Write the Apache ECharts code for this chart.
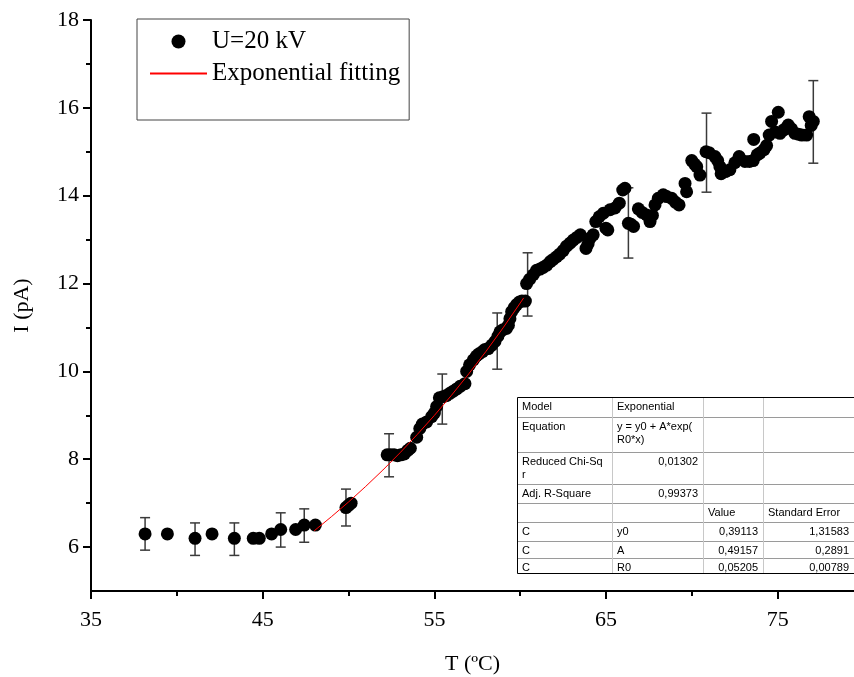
<!DOCTYPE html>
<html>
<head>
<meta charset="utf-8">
<script src="https://cdn.jsdelivr.net/npm/echarts@6/dist/echarts.min.js"></script>
<style>
  html, body { margin: 0; padding: 0; background: #fff; }
  #chart { width: 854px; height: 677px; }
</style>
</head>
<body>
<div id="chart"></div>
<script>
// Measured current I (pA) against temperature T (ºC) at U = 20 kV
const temperature = [
  38.15, 39.45, 41.06, 42.05, 43.35, 44.45, 44.80, 45.52, 46.05, 46.92, 47.42, 48.07,
  49.85, 50.00, 50.15,
  52.25, 52.45, 52.65, 52.85, 53.05, 53.25, 53.45, 53.60, 53.97, 54.15, 54.30, 54.55,
  54.84, 55.00, 55.13, 55.29, 55.50, 55.70, 55.90, 56.10, 56.30, 56.50, 56.78, 56.88,
  57.05, 57.27, 57.45, 57.60, 57.80, 57.95, 58.14, 58.35, 58.53, 58.70, 58.82, 59.00,
  59.20, 59.31, 59.40, 59.50, 59.65, 59.79, 59.95, 60.10, 60.30,
  60.37, 60.55, 60.76, 60.95, 61.15, 61.34, 61.55, 61.75, 61.92, 62.12, 62.30, 62.50,
  62.70, 62.90, 63.09, 63.30, 63.50, 63.83, 63.95, 64.06, 64.25, 64.40, 64.60, 64.84,
  64.99, 65.10, 65.23, 65.52, 65.77, 65.97, 66.10, 66.30, 66.45, 66.60, 66.88, 67.10,
  67.36, 67.56, 67.70, 67.85, 68.04, 68.33, 68.53, 68.82, 69.05, 69.25, 69.60, 69.69,
  69.99, 70.15, 70.28, 70.47, 70.82, 71.00, 71.34, 71.50, 71.63, 71.70, 71.95, 72.21,
  72.50, 72.75, 73.09, 73.35, 73.57, 73.60, 73.80, 73.96, 74.20, 74.35, 74.50, 74.64,
  74.85, 75.03, 75.13, 75.35, 75.61, 75.80, 76.00, 76.20, 76.40, 76.68, 76.83, 76.95,
  77.07
];
const current = [
  6.30, 6.30, 6.20, 6.30, 6.20, 6.20, 6.20, 6.30, 6.40, 6.40, 6.50, 6.50,
  6.90, 6.95, 7.00,
  8.10, 8.10, 8.10, 8.08, 8.10, 8.12, 8.20, 8.25, 8.50, 8.70, 8.80, 8.85,
  8.97, 9.05, 9.20, 9.40, 9.42, 9.45, 9.50, 9.55, 9.60, 9.66, 9.72, 10.00,
  10.15, 10.26, 10.35, 10.40, 10.45, 10.50, 10.52, 10.60, 10.68, 10.80, 10.90, 10.95,
  10.98, 11.05, 11.20, 11.36, 11.45, 11.52, 11.58, 11.60, 11.60,
  12.00, 12.10, 12.20, 12.30, 12.33, 12.37, 12.42, 12.50, 12.55, 12.61, 12.67, 12.75,
  12.85, 12.92, 12.99, 13.05, 13.11, 12.80, 12.90, 13.03, 13.11, 13.41, 13.52, 13.60,
  13.26, 13.22, 13.68, 13.72, 13.83, 14.13, 14.17, 13.37, 13.35, 13.30, 13.70, 13.62,
  13.56, 13.41, 13.55, 13.79, 13.94, 14.02, 13.98, 13.94, 13.85, 13.79, 14.28, 14.09,
  14.80, 14.72, 14.66, 14.47, 15.00, 14.98, 14.89, 14.80, 14.66, 14.50, 14.55, 14.59,
  14.75, 14.89, 14.78, 14.78, 14.80, 15.28, 14.93, 14.97, 15.05, 15.14, 15.38, 15.69,
  15.45, 15.90, 15.42, 15.50, 15.61, 15.52, 15.42, 15.40, 15.38, 15.38, 15.80, 15.60,
  15.69
];

// Points carrying an error bar: centre value and half-width
const errTemp    = [38.15, 41.06, 43.35, 46.05, 47.42, 49.85, 52.36, 55.46, 58.66, 60.43, 66.30, 70.85, 77.07];
const errCurrent = [6.30, 6.18, 6.18, 6.39, 6.49, 6.90, 8.09, 9.37, 10.69, 11.98, 13.38, 14.98, 15.68];
const errHalf    = [0.37, 0.37, 0.37, 0.39, 0.38, 0.42, 0.49, 0.57, 0.64, 0.72, 0.80, 0.90, 0.94];

// Exponential fit y = y0 + A*exp(R0*x) sampled over the fitted range
const fitTemp    = [48, 49, 50, 51, 52, 53, 54, 55, 56, 57, 58, 59, 60, 60.2];
const fitCurrent = [6.370, 6.691, 7.026, 7.381, 7.754, 8.147, 8.562, 8.998, 9.458, 9.943, 10.453, 10.990, 11.557, 11.673];

// Axis ticks
const xTickLabels = [35, 45, 55, 65, 75];
const xMinorTicks = [40, 50, 60, 70];
const yTickLabels = [6, 8, 10, 12, 14, 16, 18];
const yMinorTicks = [7, 9, 11, 13, 15, 17];

// Fit result table
const tableRows = [
  ['Model', 'Exponential', '', ''],
  ['Equation', 'y = y0 + A*exp(\nR0*x)', '', ''],
  ['Reduced Chi-Sq\nr', '0,01302', '', ''],
  ['Adj. R-Square', '0,99373', '', ''],
  ['', '', 'Value', 'Standard Error'],
  ['C', 'y0', '0,39113', '1,31583'],
  ['C', 'A', '0,49157', '0,2891'],
  ['C', 'R0', '0,05205', '0,00789']
];

const serif = '"Liberation Serif", "Times New Roman", serif';
const sans = '"Liberation Sans", Arial, sans-serif';

// Table layout (pixels)
const colEdges = [517, 612, 703, 763, 854];
const rowEdges = [397, 417, 452, 484, 503, 522, 541, 558, 574];

function buildTable() {
  const children = [];
  const left = colEdges[0], right = colEdges[colEdges.length - 1];
  const top = rowEdges[0], bottom = rowEdges[rowEdges.length - 1];
  children.push({ type: 'rect', shape: { x: left, y: top, width: right - left, height: bottom - top },
    style: { fill: '#fff', stroke: null }, z: 10 });
  for (let i = 1; i < rowEdges.length - 1; i++) {
    children.push({ type: 'line', shape: { x1: left, y1: rowEdges[i] + 0.5, x2: right, y2: rowEdges[i] + 0.5 },
      style: { stroke: '#9a9a9a', lineWidth: 1 }, z: 11 });
  }
  for (let j = 1; j < colEdges.length - 1; j++) {
    children.push({ type: 'line', shape: { x1: colEdges[j] + 0.5, y1: top, x2: colEdges[j] + 0.5, y2: bottom },
      style: { stroke: '#c8c8c8', lineWidth: 1 }, z: 11 });
  }
  children.push({ type: 'rect', shape: { x: left + 0.5, y: top + 0.5, width: right - left, height: bottom - top - 1 },
    style: { fill: null, stroke: '#000', lineWidth: 1 }, z: 12 });
  tableRows.forEach((row, r) => {
    row.forEach((txt, c) => {
      if (!txt) return;
      const numeric = /^[0-9,]+$/.test(txt);
      children.push({
        type: 'text', z: 13,
        x: numeric ? colEdges[c + 1] - 5 : colEdges[c] + 5,
        y: rowEdges[r] + 3,
        style: { text: txt, fill: '#000', font: '11px ' + sans, align: numeric ? 'right' : 'left',
          verticalAlign: 'top', lineHeight: 13 }
      });
    });
  });
  return { type: 'group', children };
}

const scatterData = temperature.map((t, i) => [t, current[i]]);
const errorData = errTemp.map((t, i) => [t, errCurrent[i] - errHalf[i], errCurrent[i] + errHalf[i]]);
const fitData = fitTemp.map((t, i) => [t, fitCurrent[i]]);

const axisLineStyle = { color: '#000', width: 2 };

const chart = echarts.init(document.getElementById('chart'), null, { renderer: 'canvas' });
chart.setOption({
  backgroundColor: '#fff',
  animation: false,
  grid: { left: 91, right: 0, top: 20, bottom: 86, containLabel: false, outerBoundsMode: 'none' },
  legend: {
    left: 137, top: 19, orient: 'vertical',
    padding: [10, 9, 34, 12],
    itemWidth: 57, itemHeight: 14, itemGap: 7,
    borderColor: '#444', borderWidth: 1,
    textStyle: { fontFamily: serif, fontSize: 25, color: '#000', lineHeight: 24 },
    data: [
      { name: 'U=20 kV', icon: 'circle', itemStyle: { color: '#000', opacity: 1 } },
      { name: 'Exponential fitting', itemStyle: { opacity: 0 } }
    ]
  },
  xAxis: [{
    type: 'value', min: 35, max: 79.44,
    name: 'T (ºC)', nameLocation: 'middle', nameGap: 62,
    nameTextStyle: { fontFamily: serif, fontSize: 22, color: '#000' },
    axisLine: { onZero: false, lineStyle: axisLineStyle },
    axisTick: { show: true, inside: false, length: 8, customValues: xTickLabels, lineStyle: { color: '#000', width: 2 } },
    axisLabel: { customValues: xTickLabels, margin: 18, fontFamily: serif, fontSize: 22, color: '#000' },
    splitLine: { show: false }
  }, {
    type: 'value', min: 35, max: 79.44, position: 'bottom',
    axisLine: { show: false },
    axisTick: { show: true, inside: false, length: 5, customValues: xMinorTicks, lineStyle: { color: '#000', width: 2 } },
    axisLabel: { show: false },
    splitLine: { show: false }
  }],
  yAxis: [{
    type: 'value', min: 5, max: 18,
    name: 'I (pA)', nameLocation: 'middle', nameGap: 58, nameRotate: 90,
    nameTextStyle: { fontFamily: serif, fontSize: 22, color: '#000' },
    axisLine: { onZero: false, lineStyle: axisLineStyle },
    axisTick: { show: true, inside: false, length: 8, customValues: yTickLabels, lineStyle: { color: '#000', width: 2 } },
    axisLabel: { customValues: yTickLabels, margin: 12, fontFamily: serif, fontSize: 22, color: '#000' },
    splitLine: { show: false }
  }, {
    type: 'value', min: 5, max: 18, position: 'left',
    axisLine: { show: false },
    axisTick: { show: true, inside: false, length: 5, customValues: yMinorTicks, lineStyle: { color: '#000', width: 2 } },
    axisLabel: { show: false },
    splitLine: { show: false }
  }],
  series: [{
    name: 'error', type: 'custom', xAxisIndex: 0, yAxisIndex: 0, z: 1,
    data: errorData,
    renderItem: function (params, api) {
      const t = api.value(0);
      const hi = api.coord([t, api.value(2)]);
      const lo = api.coord([t, api.value(1)]);
      const cap = 5;
      const style = { stroke: '#3a3a3a', lineWidth: 1.5 };
      return {
        type: 'group',
        children: [
          { type: 'line', shape: { x1: hi[0], y1: hi[1], x2: lo[0], y2: lo[1] }, style },
          { type: 'line', shape: { x1: hi[0] - cap, y1: hi[1], x2: hi[0] + cap, y2: hi[1] }, style },
          { type: 'line', shape: { x1: lo[0] - cap, y1: lo[1], x2: lo[0] + cap, y2: lo[1] }, style }
        ]
      };
    }
  }, {
    name: 'U=20 kV', type: 'scatter', xAxisIndex: 0, yAxisIndex: 0, z: 2,
    symbol: 'circle', symbolSize: 13,
    itemStyle: { color: '#000', opacity: 1 },
    data: scatterData
  }, {
    name: 'Exponential fitting', type: 'line', xAxisIndex: 0, yAxisIndex: 0, z: 3,
    symbol: 'none', smooth: false,
    lineStyle: { color: '#ff0000', width: 1 },
    itemStyle: { color: '#ff0000' },
    data: fitData
  }],
  graphic: [buildTable()]
});
</script>
</body>
</html>
